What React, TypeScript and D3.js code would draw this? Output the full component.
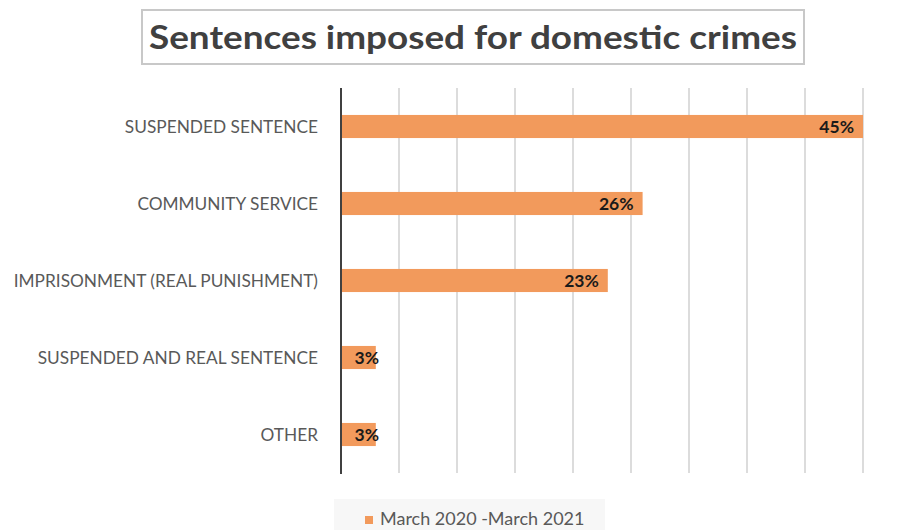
import React from "react";
import * as d3 from "d3";

const categories = [
  "SUSPENDED SENTENCE",
  "COMMUNITY SERVICE",
  "IMPRISONMENT (REAL PUNISHMENT)",
  "SUSPENDED AND REAL SENTENCE",
  "OTHER",
];
const values = [45, 26, 23, 3, 3];
const gridTicks = [0, 5, 10, 15, 20, 25, 30, 35, 40, 45];
const seriesName = "March 2020 -March 2021";
const title = "Sentences imposed for domestic crimes";

const W = 914;
const H = 530;
const FONT = "Lato, 'Open Sans', sans-serif";

export default function App() {
  const x = d3.scaleLinear().domain([0, 45]).range([341, 863]);
  const y = d3
    .scaleBand<string>()
    .domain(categories)
    .range([88, 473])
    .paddingInner(0.7)
    .paddingOuter(0.35);

  return (
    <svg
      width={W}
      height={H}
      style={{ position: "absolute", left: 0, top: 0, background: "#fff" }}
    >
      {/* Title box */}
      <rect x={142} y={10} width={662} height={54} fill="#fff" stroke="#c8c8c8" strokeWidth={2} />
      <text
        x={473}
        y={49}
        textAnchor="middle"
        fontFamily={FONT}
        fontWeight="bold"
        fontSize={33}
        fill="#404040"
        textLength={648}
        lengthAdjust="spacingAndGlyphs"
      >
        {title}
      </text>

      {/* Gridlines */}
      {gridTicks.slice(1).map((t) => (
        <line key={t} x1={x(t)} x2={x(t)} y1={88} y2={473} stroke="#d0d0d0" strokeWidth={1.5} />
      ))}

      {/* Bars */}
      {categories.map((c, i) => (
        <rect
          key={c}
          x={x(0)}
          y={y(c)}
          width={x(values[i]) - x(0)}
          height={y.bandwidth()}
          fill="#f29a5c"
        />
      ))}

      {/* Axis line */}
      <line x1={x(0)} x2={x(0)} y1={88} y2={474} stroke="#404040" strokeWidth={2} />

      {/* Category labels */}
      {categories.map((c) => (
        <text
          key={c}
          x={318}
          y={(y(c) as number) + y.bandwidth() / 2}
          dy="0.35em"
          textAnchor="end"
          fontFamily={FONT}
          fontSize={17.3}
          fill="#595959"
        >
          {c}
        </text>
      ))}

      {/* Value labels */}
      {categories.map((c, i) => (
        <text
          key={c}
          x={Math.max(x(values[i]) - 9, x(0) + 38)}
          y={(y(c) as number) + y.bandwidth() / 2}
          dy="0.36em"
          textAnchor="end"
          fontFamily={FONT}
          fontWeight="bold"
          fontSize={17.5}
          fill="#1a1a1a"
        >
          {values[i]}%
        </text>
      ))}

      {/* Legend */}
      <rect x={334} y={499} width={271} height={31} fill="#f7f7f7" />
      <rect x={365} y={516} width={8} height={8} fill="#f29a5c" />
      <text x={380} y={525} fontFamily={FONT} fontSize={18} fill="#595959">
        {seriesName}
      </text>
    </svg>
  );
}
